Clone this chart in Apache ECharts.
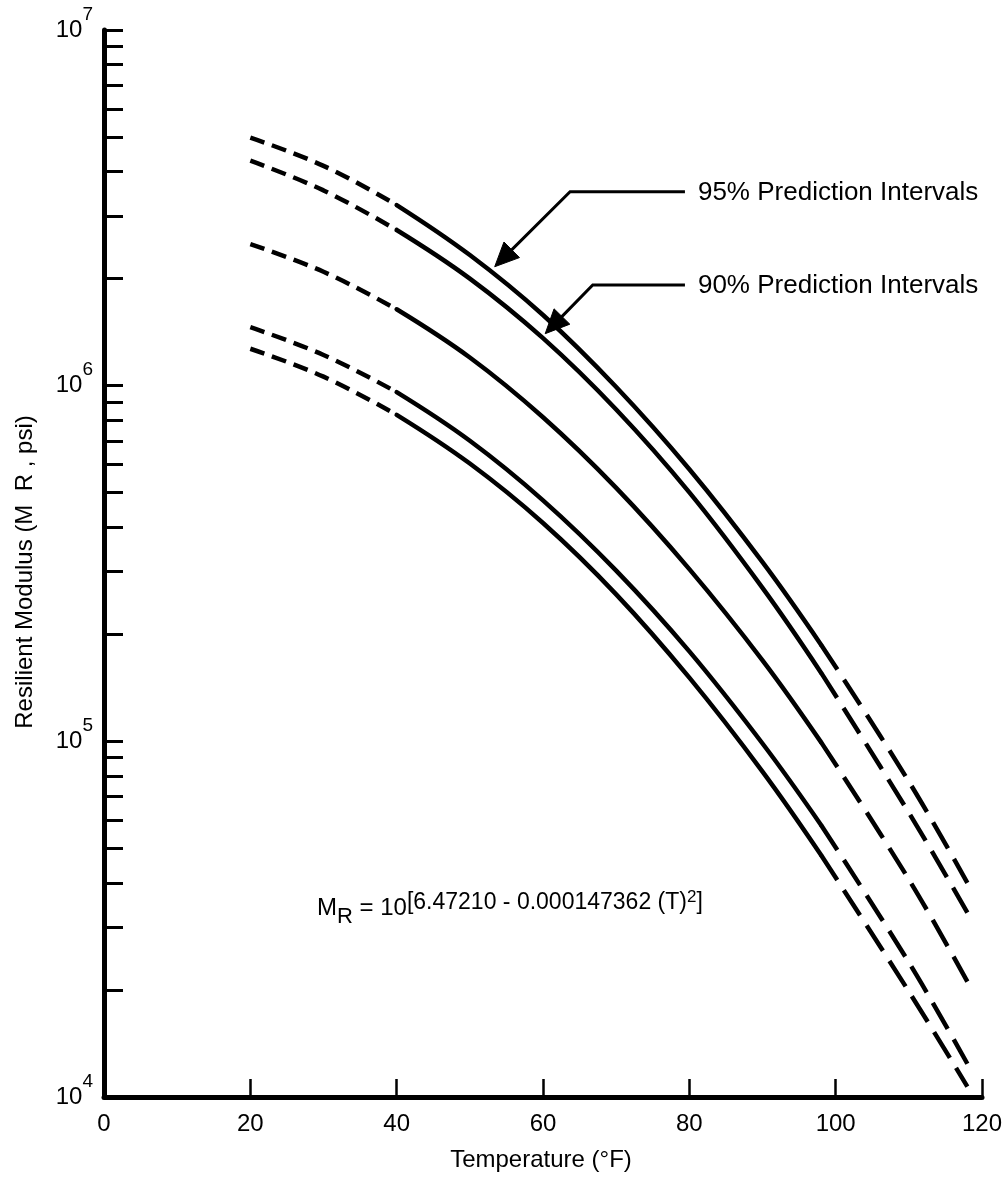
<!DOCTYPE html>
<html><head><meta charset="utf-8">
<script src="https://cdn.jsdelivr.net/npm/echarts@6/dist/echarts.min.js"></script>
<style>html,body{margin:0;padding:0;background:#fff}#c{width:1007px;height:1179px}</style>
</head><body><div id="c"></div>
<script>
// Temperature (°F)
const temps   = [20, 30, 40, 50, 60, 70, 80, 90, 98, 110, 118];
// Resilient modulus (psi)
const upper95 = [4.98e6, 4.15e6, 3.22e6, 2.33e6, 1.58e6, 9.91e5, 5.82e5, 3.19e5, 1.87e5, 7.71e4, 4.00e4];
const upper90 = [4.29e6, 3.54e6, 2.74e6, 2.00e6, 1.36e6, 8.57e5, 5.01e5, 2.70e5, 1.56e5, 6.30e4, 3.30e4];
const center  = [2.50e6, 2.09e6, 1.64e6, 1.20e6, 8.15e5, 5.16e5, 3.05e5, 1.69e5, 9.95e4, 4.09e4, 2.11e4];
const lower90 = [1.46e6, 1.22e6, 9.59e5, 7.00e5, 4.76e5, 3.02e5, 1.79e5, 9.86e4, 5.82e4, 2.39e4, 1.24e4];
const lower95 = [1.27e6, 1.06e6, 8.28e5, 6.04e5, 4.11e5, 2.59e5, 1.51e5, 8.22e4, 4.79e4, 1.98e4, 1.07e4];
// solid between these temperatures, dashed outside
const solidFrom = 40, solidTo = 98;
// axis ticks
const xTickLabels = [0, 20, 40, 60, 80, 100, 120];
const yDecades = [1e4, 1e5, 1e6, 1e7];
const yTickValues = [1e4,2e4,3e4,4e4,5e4,6e4,7e4,8e4,9e4,
                     1e5,2e5,3e5,4e5,5e5,6e5,7e5,8e5,9e5,
                     1e6,2e6,3e6,4e6,5e6,6e6,7e6,8e6,9e6,1e7];
// annotation texts and arrow anchors (data coordinates)
const annoTexts = ['95% Prediction Intervals', '90% Prediction Intervals'];
const arrow95 = [[79.4, 3.51e6], [63.7, 3.51e6], [53.4, 2.16e6]];
const arrow90 = [[79.4, 1.92e6], [66.8, 1.92e6], [60.3, 1.40e6]];

const FONT = '"Liberation Sans", Arial, Helvetica, sans-serif';
const chart = echarts.init(document.getElementById('c'), null, {renderer: 'canvas'});

const series = [];
[upper95, upper90, center, lower90, lower95].forEach((vals) => {
  const pts = temps.map((t, i) => [t, vals[i]]);
  const a = temps.indexOf(solidFrom), b = temps.indexOf(solidTo);
  const base = {type: 'line', symbol: 'none', smooth: 0.4, silent: true, animation: false, z: 3};
  series.push(Object.assign({}, base, {data: pts.slice(0, a + 1),
    lineStyle: {color: '#000', width: 4.5, type: [15, 8], cap: 'butt'}}));
  series.push(Object.assign({}, base, {data: pts.slice(a, b + 1),
    lineStyle: {color: '#000', width: 4.5, type: 'solid', cap: 'round'}}));
  series.push(Object.assign({}, base, {data: pts.slice(b),
    lineStyle: {color: '#000', width: 4.5, type: [30, 12], cap: 'butt'}}));
});

chart.setOption({
  backgroundColor: '#fff',
  animation: false,
  grid: {left: 104, right: 25, top: 30, bottom: 82, containLabel: false, outerBoundsMode: 'none'},
  xAxis: {
    type: 'value', min: 0, max: 120, interval: 20,
    axisLine: {show: true, onZero: false, lineStyle: {color: '#000', width: 5}},
    axisTick: {show: true, inside: true, length: 18, lineStyle: {color: '#000', width: 2.5}},
    axisLabel: {color: '#000', fontSize: 24, fontFamily: FONT, margin: 15,
      customValues: xTickLabels},
    splitLine: {show: false}
  },
  yAxis: {
    type: 'log', logBase: 10, min: 1e4, max: 1e7,
    axisLine: {show: true, lineStyle: {color: '#000', width: 5}},
    axisTick: {show: true, inside: true, length: 19, lineStyle: {color: '#000', width: 3},
      customValues: yTickValues},
    axisLabel: {
      color: '#000', margin: 11, customValues: yDecades,
      formatter: v => '{b|10}{s|' + Math.round(Math.log10(v)) + '}',
      rich: {
        b: {fontSize: 24, fontFamily: FONT, color: '#000', verticalAlign: 'bottom', lineHeight: 24},
        s: {fontSize: 19, fontFamily: FONT, color: '#000', verticalAlign: 'bottom', lineHeight: 19, padding: [0, 0, 18, 0]}
      }
    },
    splitLine: {show: false}, minorTick: {show: false}
  },
  series: series
});

// annotations
function px(p) { return chart.convertToPixel({gridIndex: 0}, p); }
function arrowGraphics(pts, text) {
  const P = pts.map(px);
  const tip = P[2], prev = P[1];
  const dx = tip[0] - prev[0], dy = tip[1] - prev[1];
  const L = Math.sqrt(dx * dx + dy * dy), ux = dx / L, uy = dy / L;
  const hl = 24, hw = 11;
  const bx = tip[0] - ux * hl, by = tip[1] - uy * hl;
  return [
    {type: 'polyline', shape: {points: [P[0], P[1], [bx + ux * 4, by + uy * 4]]},
      style: {stroke: '#000', lineWidth: 3, fill: null}, z: 10},
    {type: 'polygon', shape: {points: [tip, [bx - uy * hw, by + ux * hw], [bx + uy * hw, by - ux * hw]]},
      style: {fill: '#000', stroke: '#000', lineWidth: 1}, z: 10},
    {type: 'text', x: P[0][0] + 13, y: P[0][1] + 1,
      style: {text: text, fill: '#000', font: '26px ' + FONT, align: 'left', verticalAlign: 'middle'}, z: 10}
  ];
}

const tok = (size, pad) => ({fontSize: size, fontFamily: FONT, fill: '#000', color: '#000',
  verticalAlign: 'bottom', lineHeight: size, padding: [0, 0, pad, 0]});

chart.setOption({
  graphic: [].concat(
    arrowGraphics(arrow95, annoTexts[0]),
    arrowGraphics(arrow90, annoTexts[1]),
    [
      {type: 'text', x: 25, y: 572, rotation: Math.PI / 2,
        style: {text: 'Resilient Modulus (M  R , psi)', fill: '#000', font: '24px ' + FONT, align: 'center', verticalAlign: 'middle'}},
      {type: 'text', x: 541, y: 1160,
        style: {text: 'Temperature (°F)', fill: '#000', font: '24px ' + FONT, align: 'center', verticalAlign: 'middle'}},
      {type: 'text', x: 317, y: 928,
        style: {
          text: '{m|M}{r|R}{m| = 10}{p|[6.47210 - 0.000147362 (T)}{q|2}{p|]}',
          align: 'left', verticalAlign: 'bottom',
          rich: {m: tok(24, 8), r: tok(22, 0), p: tok(23, 14), q: tok(17, 22)}
        }}
    ]
  )
});
</script>
</body></html>
